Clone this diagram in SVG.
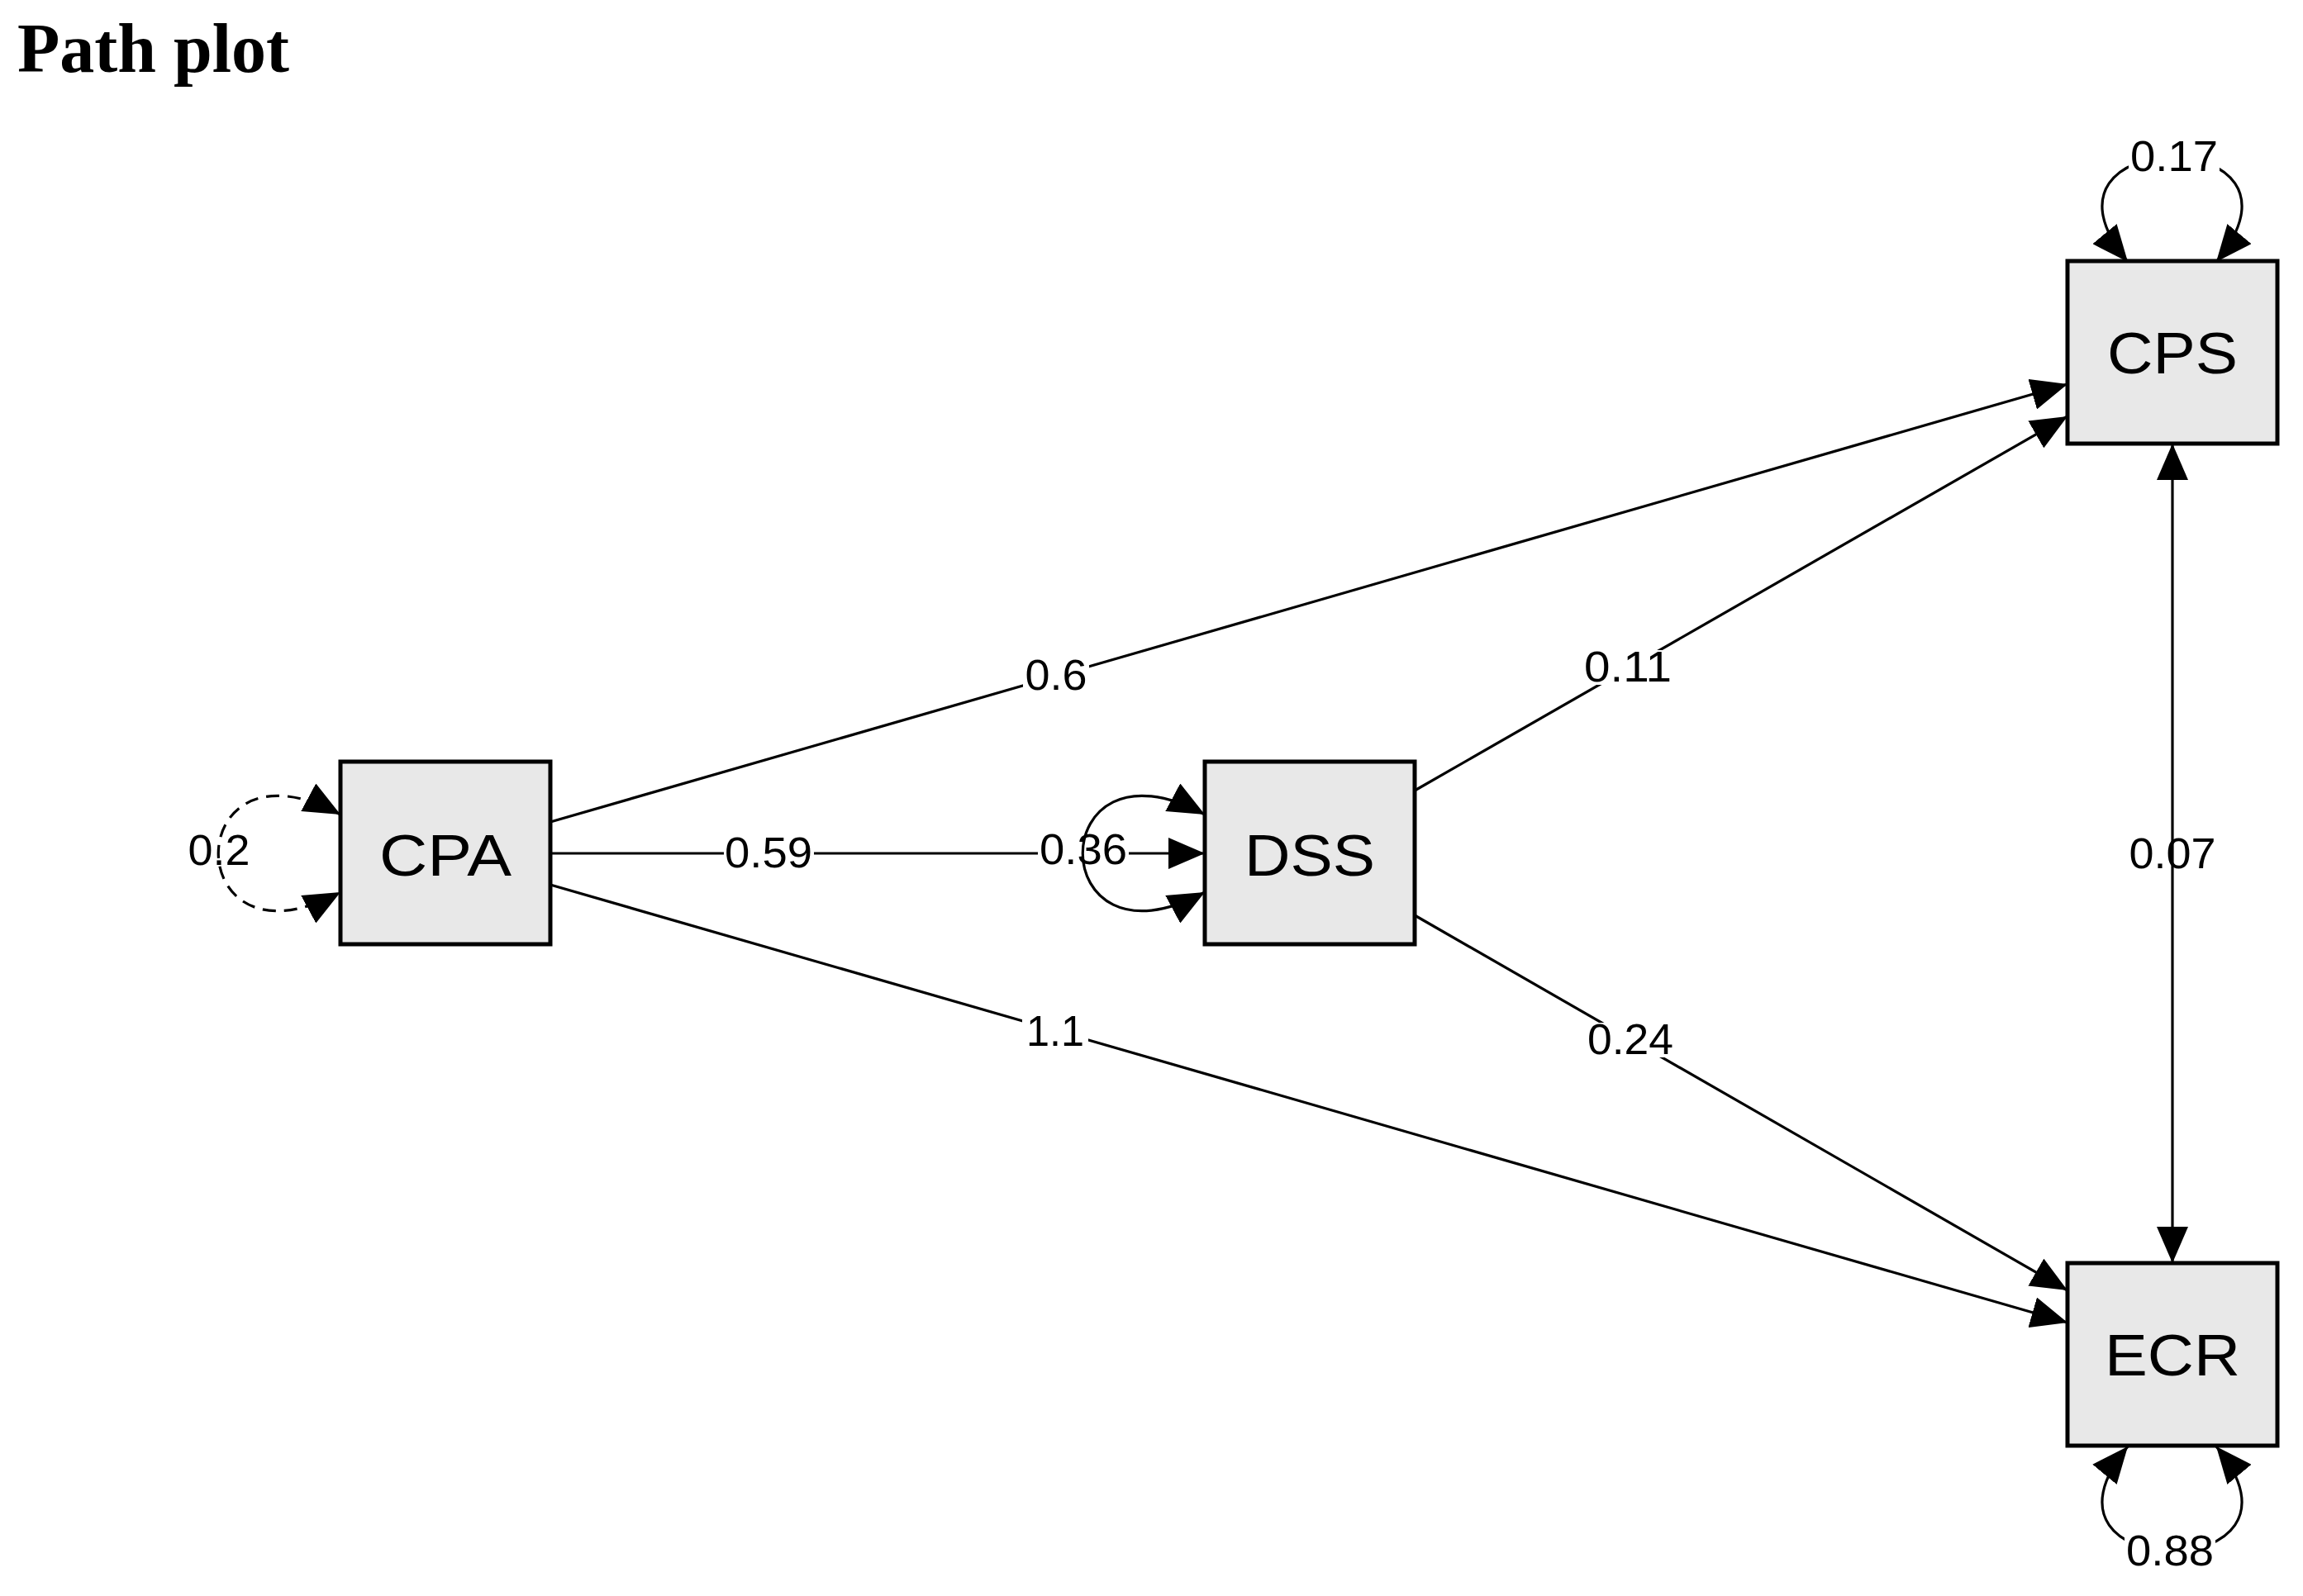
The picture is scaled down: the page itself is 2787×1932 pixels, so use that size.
<svg xmlns="http://www.w3.org/2000/svg" width="2787" height="1932" viewBox="0 0 2787 1932">
<style>
.box{fill:#e8e8e8;stroke:#000;stroke-width:5}
.nl{font-family:"Liberation Sans",Arial,sans-serif;font-size:71px;fill:#000;text-anchor:middle}
.el{font-family:"Liberation Sans",Arial,sans-serif;font-size:51px;fill:#000;text-anchor:middle}
.e{fill:none;stroke:#000;stroke-width:3.2}
.dash{stroke-dasharray:16 10}
.bg{fill:#fff}
</style>
<defs>
<marker id="ah" viewBox="0 0 46 38" markerWidth="46" markerHeight="38" refX="44" refY="19" orient="auto-start-reverse" markerUnits="userSpaceOnUse">
<path d="M0,0 L44,19 L0,38 z" fill="#000" stroke="none"/>
</marker>
</defs>
<rect width="2787" height="1932" fill="#fff"/>
<text x="21" y="87" font-family="Liberation Serif, Times New Roman, serif" font-weight="bold" font-size="84">Path plot</text>

<g id="connectors">
<path class="e" d="M666 995 L2502 465" marker-end="url(#ah)"/>
<path class="e" d="M666 1033 L1458 1033" marker-end="url(#ah)"/>
<path class="e" d="M666 1071 L2502 1601" marker-end="url(#ah)"/>
<path class="e" d="M1712 957 L2502 504" marker-end="url(#ah)"/>
<path class="e" d="M1712 1108 L2502 1562" marker-end="url(#ah)"/>
<path class="e" d="M2629 537 L2629 1529" marker-start="url(#ah)" marker-end="url(#ah)"/>
<rect class="bg" x="1238" y="797" width="80" height="42"/>
<rect class="bg" x="1916" y="787" width="109" height="42"/>
<rect class="bg" x="876" y="1012" width="109" height="42"/>
<rect class="bg" x="1256" y="1008" width="110" height="42"/>
<rect class="bg" x="1237" y="1229" width="80" height="42"/>
<rect class="bg" x="1919" y="1238" width="109" height="42"/>
<path class="e dash" d="M412 986 C215 880 215 1186 412 1080" marker-start="url(#ah)" marker-end="url(#ah)"/>
<path class="e" d="M1458 986 C1261 880 1261 1186 1458 1080" marker-start="url(#ah)" marker-end="url(#ah)"/>
<path class="e" d="M2575 317 C2435 148 2822 148 2682 317" marker-start="url(#ah)" marker-end="url(#ah)"/>
<path class="e" d="M2575 1751 C2435 1920 2822 1920 2682 1751" marker-start="url(#ah)" marker-end="url(#ah)"/>
<rect class="bg" x="2576" y="169" width="110" height="42"/>
<rect class="bg" x="2571" y="1857" width="110" height="42"/>
<text class="el" x="1278" y="835" textLength="75" lengthAdjust="spacingAndGlyphs">0.6</text>
<text class="el" x="1970" y="825" textLength="106" lengthAdjust="spacingAndGlyphs">0.11</text>
<text class="el" x="930" y="1050" textLength="106" lengthAdjust="spacingAndGlyphs">0.59</text>
<text class="el" x="1311" y="1046" textLength="106" lengthAdjust="spacingAndGlyphs">0.36</text>
<text class="el" x="1277" y="1266" textLength="70" lengthAdjust="spacingAndGlyphs">1.1</text>
<text class="el" x="1973" y="1276" textLength="104" lengthAdjust="spacingAndGlyphs">0.24</text>
<text class="el" x="2629" y="1051" textLength="105" lengthAdjust="spacingAndGlyphs">0.07</text>
<text class="el" x="2631" y="207" textLength="106" lengthAdjust="spacingAndGlyphs">0.17</text>
<text class="el" x="2626" y="1895" textLength="106" lengthAdjust="spacingAndGlyphs">0.88</text>
<text class="el" x="265" y="1047" textLength="75" lengthAdjust="spacingAndGlyphs">0.2</text>
</g>

<g id="node-CPA">
<rect class="box" x="412" y="922" width="254" height="221"/>
<text class="nl" x="539" y="1060" textLength="160" lengthAdjust="spacingAndGlyphs">CPA</text>
</g>
<g id="node-DSS">
<rect class="box" x="1458" y="922" width="254" height="221"/>
<text class="nl" x="1585" y="1060" textLength="158" lengthAdjust="spacingAndGlyphs">DSS</text>
</g>
<g id="node-CPS">
<rect class="box" x="2502" y="316" width="254" height="221"/>
<text class="nl" x="2629" y="452" textLength="158" lengthAdjust="spacingAndGlyphs">CPS</text>
</g>
<g id="node-ECR">
<rect class="box" x="2502" y="1529" width="254" height="221"/>
<text class="nl" x="2629" y="1665" textLength="164" lengthAdjust="spacingAndGlyphs">ECR</text>
</g>
</svg>
